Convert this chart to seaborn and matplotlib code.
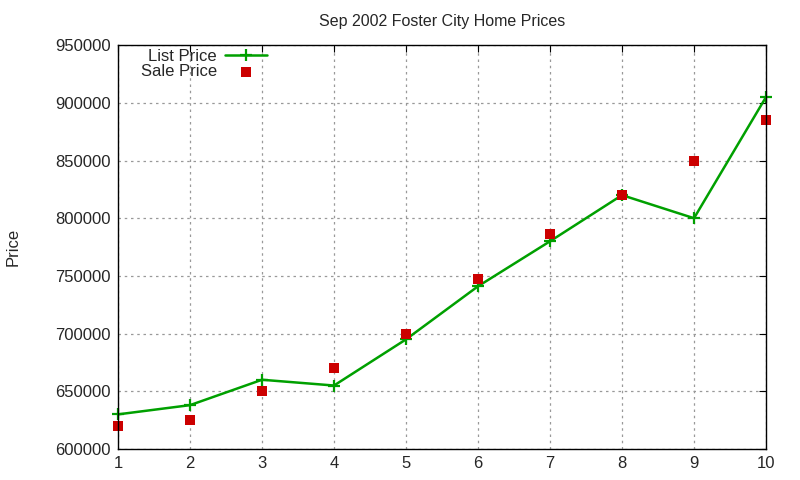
import matplotlib
matplotlib.use("Agg")
import matplotlib.pyplot as plt
import seaborn as sns
import pandas as pd

houses = [1, 2, 3, 4, 5, 6, 7, 8, 9, 10]
list_price = [630000, 638000, 660000, 655000, 695000, 741000, 780000, 820000, 800000, 905000]
sale_price = [620000, 625000, 650000, 670000, 700000, 747000, 786000, 820000, 850000, 885000]
y_ticks = [600000, 650000, 700000, 750000, 800000, 850000, 900000, 950000]

df = pd.DataFrame({"house": houses, "list": list_price, "sale": sale_price})

sns.set_style("white")
plt.rcParams['font.family'] = ['Liberation Sans', 'DejaVu Sans']

fig = plt.figure(figsize=(8, 4.8), dpi=100)
ax = fig.add_axes([0.1475, 0.0646, 0.81, 0.8414])

sns.lineplot(data=df, x="house", y="list", ax=ax, color="#00a000", linewidth=1.8,
             marker="+", markersize=9, markeredgewidth=1.6, markeredgecolor="#00a000",
             label="List Price", clip_on=False, zorder=3)
sns.scatterplot(data=df, x="house", y="sale", ax=ax, color="#cc0000", marker="s",
                s=45, linewidth=0, label="Sale Price", zorder=4, clip_on=False)

ax.set_xlim(1, 10)
ax.set_ylim(600000, 950000)
ax.set_xticks(houses)
ax.set_yticks(y_ticks)
ax.set_yticklabels([str(v) for v in y_ticks])
ax.tick_params(direction="in", length=5, top=True, right=True, labelsize=12, pad=5,
               color="black")
ax.grid(True, linestyle=(0, (2, 3)), color="#999999", linewidth=0.9)
for s in ax.spines.values():
    s.set_color("black")
    s.set_linewidth(1.0)
    s.set_zorder(5)

ax.set_xlabel("")
ax.set_ylabel("Price", fontsize=12)
ax.yaxis.set_label_coords(-0.151, 0.5)
ax.set_title("Sep 2002 Foster City Home Prices", fontsize=11.5, pad=14)

leg = ax.legend(loc="upper right", bbox_to_anchor=(0.23, 0.99), frameon=False,
                markerfirst=False, fontsize=12, handlelength=2.5,
                labelspacing=0.0, handletextpad=0.5, borderaxespad=0.0, borderpad=0.0)
for t in leg.get_texts():
    t.set_ha("right")
leg._legend_box.align = "right"

fig.savefig("out.png", dpi=100)
